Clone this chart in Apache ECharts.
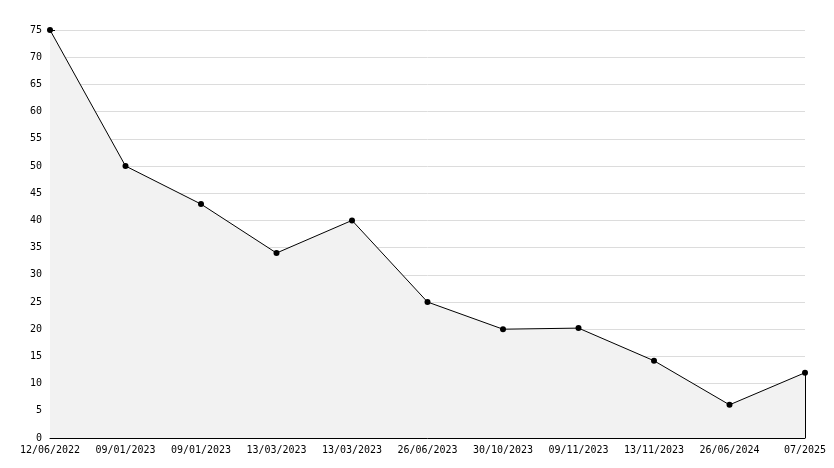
<!DOCTYPE html>
<html>
<head>
<meta charset="utf-8">
<script src="https://cdn.jsdelivr.net/npm/echarts@6/dist/echarts.min.js"></script>
<style>html,body{margin:0;padding:0;background:#fff}#c{width:834px;height:468px}</style>
</head>
<body>
<div id="c"></div>
<script>
const categories = ['12/06/2022','09/01/2023','09/01/2023','13/03/2023','13/03/2023','26/06/2023','30/10/2023','09/11/2023','13/11/2023','26/06/2024','07/2025'];
const values = [75, 50, 43, 34, 40, 25, 20, 20.2, 14.2, 6.1, 12];
const yMin = 0, yMax = 75, yStep = 5;

const chart = echarts.init(document.getElementById('c'));
const font = 'DejaVu Sans Mono';
const last = categories.length - 1;
chart.setOption({
  animation: false,
  grid: {left: 50, right: 29, top: 30, bottom: 30},
  xAxis: {
    type: 'category',
    data: categories,
    boundaryGap: false,
    axisLine: {lineStyle: {color: '#000', width: 1}},
    axisTick: {inside: true, length: 5, lineStyle: {color: '#000'}, alignWithLabel: true},
    axisLabel: {color: '#000', fontFamily: font, fontSize: 10, margin: 7, interval: 0},
    splitLine: {show: false}
  },
  yAxis: {
    type: 'value',
    min: yMin, max: yMax, interval: yStep,
    axisLine: {show: true, lineStyle: {color: '#000', width: 1}},
    axisTick: {show: true, inside: true, length: 5, lineStyle: {color: '#000'}},
    minorTick: {show: true, splitNumber: 5, length: 3, lineStyle: {color: '#000'}},
    axisLabel: {color: '#000', fontFamily: font, fontSize: 10, margin: 8},
    splitLine: {show: true, lineStyle: {color: '#dcdcdc', width: 1}}
  },
  series: [{
    type: 'line',
    data: values,
    symbol: 'circle',
    symbolSize: 6,
    itemStyle: {color: '#000'},
    lineStyle: {color: '#000', width: 1},
    areaStyle: {color: '#f2f2f2', opacity: 1},
    markLine: {
      silent: true,
      symbol: ['none','none'],
      label: {show: false},
      lineStyle: {color: '#000', width: 1, type: 'solid'},
      data: [[{coord: [last, yMin]}, {coord: [last, values[last]]}]]
    }
  }]
});
</script>
</body>
</html>
